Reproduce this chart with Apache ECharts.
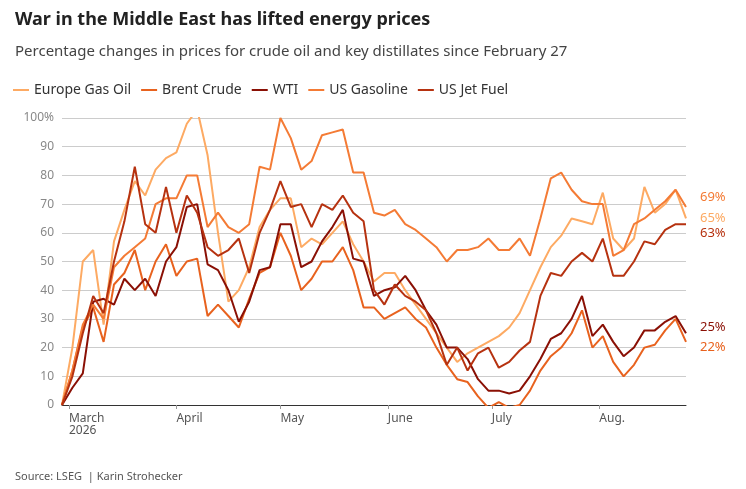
<!DOCTYPE html>
<html><head><meta charset="utf-8">
<script src="https://cdn.jsdelivr.net/npm/echarts@6/dist/echarts.min.js"></script>
<style>html,body{margin:0;padding:0;background:#fff}#c{width:746px;height:489px}</style>
</head><body><div id="c"></div>
<script>
const dates = ["2026-02-27","2026-03-02","2026-03-05","2026-03-08","2026-03-11","2026-03-14","2026-03-17","2026-03-20","2026-03-23","2026-03-26","2026-03-29",
"2026-04-01","2026-04-04","2026-04-07","2026-04-10","2026-04-13","2026-04-16","2026-04-19","2026-04-22","2026-04-25","2026-04-28",
"2026-05-01","2026-05-04","2026-05-07","2026-05-10","2026-05-13","2026-05-16","2026-05-19","2026-05-22","2026-05-25","2026-05-28","2026-05-31",
"2026-06-03","2026-06-06","2026-06-09","2026-06-12","2026-06-15","2026-06-18","2026-06-21","2026-06-24","2026-06-27","2026-06-30",
"2026-07-03","2026-07-06","2026-07-09","2026-07-12","2026-07-15","2026-07-18","2026-07-21","2026-07-24","2026-07-27","2026-07-30",
"2026-08-02","2026-08-05","2026-08-08","2026-08-11","2026-08-14","2026-08-17","2026-08-20","2026-08-23","2026-08-26"];
const europeGasOil = [0,20,50,54,28,57,68,78,73,82,86,88,98,103,87,60,36,40,48,62,68,72,72,55,58,56,60,64,56,50,43,46,
46,40,35,30,25,20,15,18,20,22,24,27,32,40,48,55,59,65,64,63,74,58,54,58,76,67,70,75,65];
const brentCrude = [0,12,27,34,22,42,46,54,40,50,56,45,50,51,31,35,31,27,37,46,48,60,52,40,44,50,50,55,47,34,34,30,
32,34,30,27,20,14,9,8,3,-1,1,-1,0,5,12,17,20,25,33,20,24,15,10,14,20,21,26,30,22];
const wti = [0,6,11,36,37,35,44,40,44,38,50,55,69,70,49,47,40,29,36,47,48,63,63,48,50,57,62,68,51,50,38,40,
41,45,40,33,28,20,20,16,9,5,5,4,5,10,16,23,25,30,38,24,28,22,17,20,26,26,29,31,25];
const usGasoline = [0,12,28,35,30,48,52,55,58,70,72,72,80,80,62,67,62,60,63,83,82,100,93,82,85,94,95,96,81,81,67,66,
68,63,61,58,55,50,54,54,55,58,54,54,58,52,65,79,81,75,71,70,70,52,54,63,65,68,71,75,69];
const usJetFuel = [0,10,25,38,32,50,64,83,63,60,76,60,73,67,55,52,54,58,46,60,68,78,69,70,62,70,68,73,67,64,40,35,
42,38,36,33,25,14,20,12,18,20,13,15,19,22,38,46,45,50,53,50,58,45,45,50,57,56,61,63,63];
const yTicks = [0,10,20,30,40,50,60,70,80,90,100];
const monthNames = ["Jan.","Feb.","March","April","May","June","July","Aug.","Sept."];

const defs = [
  {name:"Europe Gas Oil", data:europeGasOil, color:"#fdaa63", off:[6,0]},
  {name:"Brent Crude", data:brentCrude, color:"#e8621e", off:[6,5]},
  {name:"WTI", data:wti, color:"#8a1005", off:[6,-6]},
  {name:"US Gasoline", data:usGasoline, color:"#f47b35", off:[6,-10]},
  {name:"US Jet Fuel", data:usJetFuel, color:"#b63210", off:[6,9]}
];
const chart = echarts.init(document.getElementById('c'));
chart.setOption({
  animation:false,
  textStyle:{fontFamily:"Noto Sans"},
  title:[
    {text:"War in the Middle East has lifted energy prices", left:10, top:6, textStyle:{fontSize:18, fontWeight:"bold", color:"#222"}},
    {text:"Percentage changes in prices for crude oil and key distillates since February 27", left:10, top:39, textStyle:{fontSize:15, fontWeight:"normal", color:"#444"}},
    {text:"Source: LSEG  | Karin Strohecker", left:10, top:466, textStyle:{fontSize:11, fontWeight:"normal", color:"#555"}}
  ],
  legend:{left:8, top:78, itemWidth:16, itemHeight:2, itemGap:10, icon:"rect",
    textStyle:{fontSize:14, color:"#333"}, data:defs.map(d=>d.name)},
  grid:{left:62, right:60, top:118, bottom:84},
  xAxis:{type:"time", min:"2026-02-27", max:"2026-08-26",
    axisLine:{lineStyle:{color:"#333", width:1}},
    axisTick:{show:true, length:4, lineStyle:{color:"#999"}},
    splitLine:{show:false},
    minInterval:28*86400000,
    axisLabel:{color:"#555", fontSize:12, hideOverlap:false, align:"left",
      formatter:function(v){const d=new Date(v); if(d.getDate()!==1) return ""; const m=d.getMonth(); return m===2? "March\n2026" : monthNames[m];}}},
  yAxis:{type:"value", min:0, max:100, interval:10,
    axisLine:{show:false}, axisTick:{show:false},
    splitLine:{lineStyle:{color:"#ccc"}},
    axisLabel:{color:"#888", fontSize:12, formatter:function(v){return v===100?"100%":String(v);}}},
  series: defs.map(d=>({
    name:d.name, type:"line", symbol:"none", color:d.color,
    lineStyle:{width:2},
    data:dates.map((t,i)=>[t,d.data[i]]),
    endLabel:{show:true, offset:d.off, color:d.color, fontSize:13, formatter:p=>p.value[1]+"%"}
  }))
});
</script></body></html>
